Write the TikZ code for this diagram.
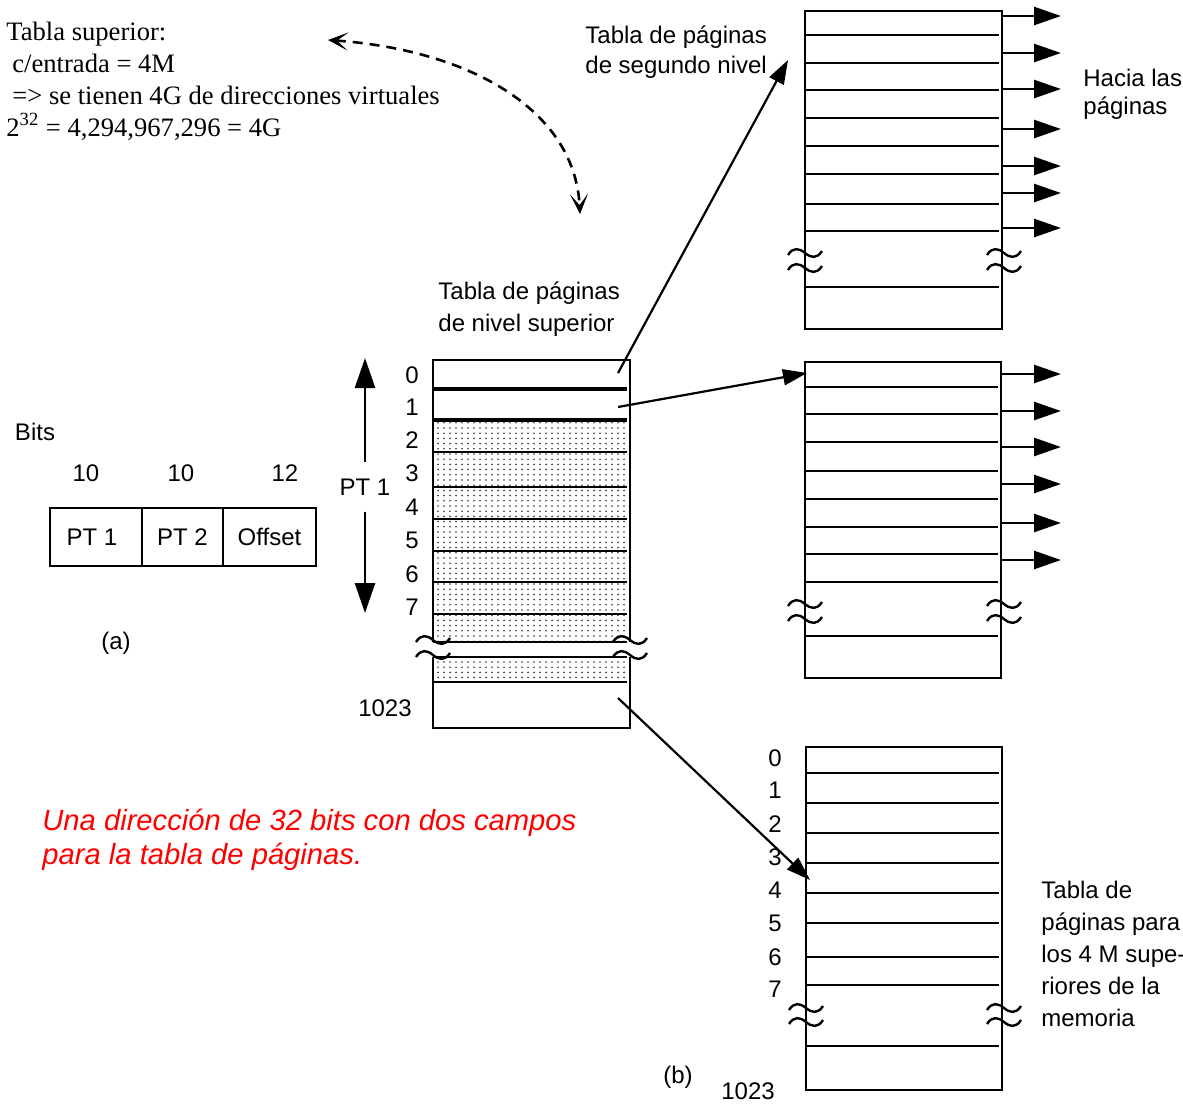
\documentclass[tikz,border=0pt]{standalone}
\usepackage{fontspec}
\setmainfont{Liberation Serif}
\setsansfont{Liberation Sans}
\usetikzlibrary{arrows.meta, positioning, patterns}
\pgfdeclarepatternformonly{finedots}{\pgfpoint{-0.6pt}{-0.6pt}}{\pgfpoint{0.6pt}{0.6pt}}%
  {\pgfpoint{3pt}{2.6pt}}{\pgfpathcircle{\pgfpointorigin}{0.45pt}\pgfusepath{fill}}
\tikzset{
  tbl/.style    = {line width=1.4pt},
  rowln/.style  = {line width=1.4pt},
  rowthk/.style = {line width=1.8pt},
  cut/.style    = {line width=1.2pt},
  conarr/.style = {-{Triangle[length=12pt, width=8pt]}, line width=1.1pt},
  outarr/.style = {-{Triangle[length=13.5pt, width=9pt]}, line width=1.3pt},
  sizearr/.style= {-{Triangle[length=15pt, width=10pt]}, line width=1.3pt},
  dasharr/.style= {{Stealth[length=10pt, width=9pt, inset=5.5pt]}-{Stealth[length=10pt, width=9pt, inset=5.5pt]},
                   dash pattern=on 5pt off 3.5pt, line width=1.3pt},
  lbl/.style    = {font=\sffamily\fontsize{12}{14}\selectfont, inner sep=0pt},
  blk/.style    = {lbl, align=left, anchor=west},
  field/.style  = {draw, line width=1.3pt, minimum height=29pt, inner sep=0pt,
                   outer sep=0pt, font=\sffamily\fontsize{12}{14}\selectfont},
}
% tilde-shaped break mark centred on (#1,#2)
\newcommand{\cutmark}[2]{%
  \draw[cut] ({#1-17},{#2+2}) .. controls ({#1-12},{#2-6}) and ({#1-6},{#2-5}) .. (#1,#2)
    .. controls ({#1+6},{#2+5}) and ({#1+12},{#2+6}) .. ({#1+17},{#2-2});}

\begin{document}
\begin{tikzpicture}[x=0.5pt, y=-0.5pt]
\useasboundingbox (0,0) rectangle (1183,1104);

% ============================================================
%  Left part: note and address fields
% ============================================================

\node[blk, font=\rmfamily\fontsize{13.3}{16}\selectfont] (note) at (6,81)
  {Tabla superior:\\
   \hspace{3pt}c/entrada = 4M\\
   \hspace{3pt}=> se tienen 4G de direcciones virtuales\\
   2\textsuperscript{32} = 4,294,967,296 = 4G};

\node[lbl] (bits) at (35,432) {Bits};
\node[lbl] (w1) at (86,473)  {10};
\node[lbl] (w2) at (181,473) {10};
\node[lbl] (w3) at (285,473) {12};

\node[field, minimum width=46pt] (fpt1) at (96,537) {\hspace*{-4pt}PT 1};
\node[field, minimum width=40.5pt, right=0pt of fpt1] (fpt2) {PT 2};
\node[field, minimum width=46.5pt, right=0pt of fpt2] (foff) {Offset};

\node[lbl] (capa) at (116,643) {(a)};

\node[blk, font=\sffamily\itshape\fontsize{14.6}{17}\selectfont, text=red] (caption)
  at (42,840) {Una dirección de 32 bits con dos campos\\para la tabla de páginas.};

% ============================================================
%  Top-level page table
% ============================================================

\def\tL{433}  % left edge
\def\tR{630}  % right edge

\node[blk, font=\sffamily\fontsize{12}{16}\selectfont] (lbltop) at (438,309)
  {Tabla de páginas\\de nivel superior};

\fill[pattern=finedots, pattern color=black!80] (\tL,420) rectangle (\tR,642);
\fill[pattern=finedots, pattern color=black!80] (\tL,657) rectangle (\tR,682);
\draw[tbl] (\tL,642) -- (\tL,360) -- (\tR,360) -- (\tR,642);
\draw[tbl] (\tL,657) -- (\tL,728) -- (\tR,728) -- (\tR,657);
\foreach \y in {389,420} \draw[rowthk] (\tL,\y) -- (627,\y);
\foreach \y in {452,487,519,551,582,614,642,657,682} \draw[rowln] (\tL,\y) -- (627,\y);
\foreach \y in {640,655} {\cutmark{\tL}{\y} \cutmark{\tR}{\y}}

\foreach \n/\y in {0/375,1/407,2/440,3/473,4/507,5/540,6/574,7/607}
  \node[lbl] (tn\n) at (412,\y) {\n};
\node[lbl] (tnlast) at (385,708) {1023};

% PT 1 span
\node[lbl, inner ysep=8pt] (pt1lbl) at (365,487) {PT 1};
\coordinate (pt1top) at (365,358);
\coordinate (pt1bot) at (365,613);
\draw[sizearr] (pt1lbl.north) -- (pt1top);
\draw[sizearr] (pt1lbl.south) -- (pt1bot);

% ============================================================
%  Second-level page tables
% ============================================================

\node[blk, font=\sffamily\fontsize{12}{15}\selectfont] (lblsecond) at (585,52)
  {Tabla de páginas\\de segundo nivel};
\node[blk] (lblpages) at (1083,94) {Hacia las\\páginas};

% upper table
\draw[tbl] (805,11) rectangle (1002,329);
\foreach \y in {35,63,90,118,146,174,204,231,287} \draw[rowln] (805,\y) -- (999,\y);
\foreach \y in {253,268} {\cutmark{805}{\y} \cutmark{1004}{\y}}
\foreach \y [count=\i] in {16,53,89,129,166,193,228} {
  \coordinate (ua\i) at (1002,\y);
  \coordinate (ub\i) at (1061,\y);
  \draw[outarr] (ua\i) -- (ub\i);
}

% middle table
\draw[tbl] (805,362) rectangle (1001,678);
\foreach \y in {387,414,442,471,499,527,554,582,636} \draw[rowln] (805,\y) -- (998,\y);
\foreach \y in {604,619} {\cutmark{805}{\y} \cutmark{1004}{\y}}
\foreach \y [count=\i] in {374,411,447,484,523,560} {
  \coordinate (ma\i) at (1001,\y);
  \coordinate (mb\i) at (1061,\y);
  \draw[outarr] (ma\i) -- (mb\i);
}

% lower table
\draw[tbl] (806,747) rectangle (1002,1090);
\foreach \y in {773,803,833,863,893,923,957,985,1046} \draw[rowln] (806,\y) -- (999,\y);
\foreach \y in {1008,1022} {\cutmark{806}{\y} \cutmark{1004}{\y}}
\foreach \n/\y in {0/758,1/790,2/824,3/857,4/890,5/923,6/957,7/989}
  \node[lbl] (bn\n) at (775,\y) {\n};
\node[lbl] (bnlast) at (748,1091) {1023};

\node[blk, font=\sffamily\fontsize{12}{16}\selectfont] (lbl4M) at (1041,954)
  {Tabla de\\páginas para\\los 4 M supe-\\riores de la\\memoria};
\node[lbl] (capb) at (678,1077) {(b)};

% ============================================================
%  Connectors
% ============================================================

\coordinate (e0)    at (618,373);
\coordinate (e1)    at (618,407);
\coordinate (elast) at (618,698);
\coordinate (s1in)  at (788,60);
\coordinate (s2in)  at (807,373);
\coordinate (s3in)  at (810,880);
\draw[conarr] (e0) -- (s1in);
\draw[conarr] (e1) -- (s2in);
\draw[conarr] (elast) -- (s3in);

\coordinate (dashA) at (328,40);
\coordinate (dashB) at (580,214);
\draw[dasharr] (dashA) .. controls (470,50) and (575,110) .. (dashB);

\end{tikzpicture}
\end{document}
